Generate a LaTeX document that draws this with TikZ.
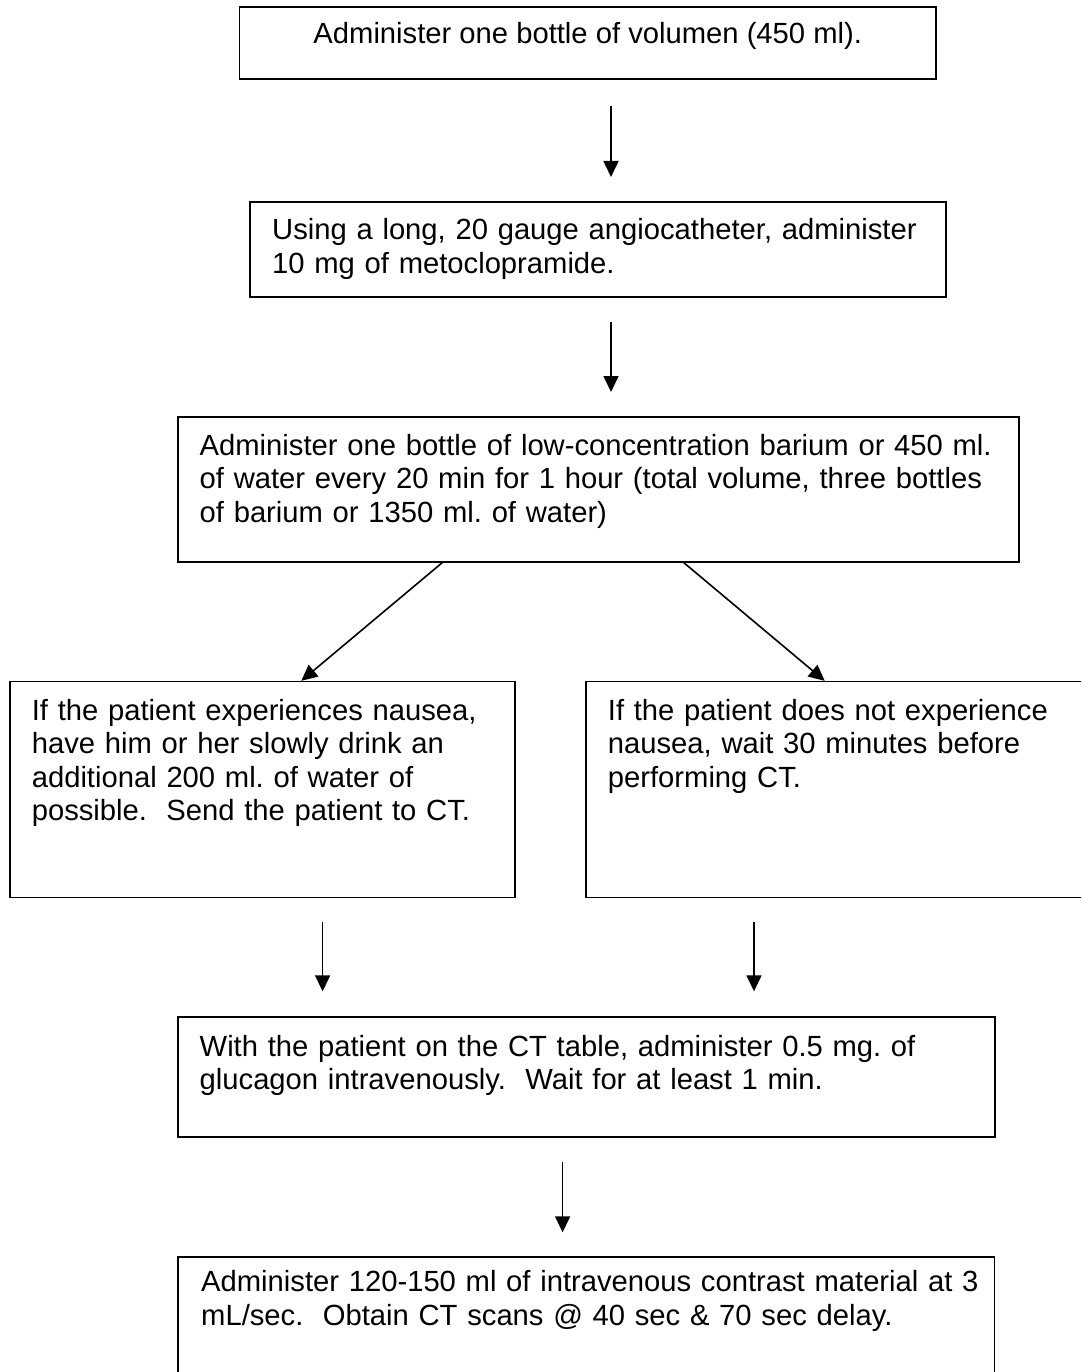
\documentclass[tikz,border=0pt]{standalone}
\usepackage{fontspec}
\setmainfont{Liberation Sans}
\usetikzlibrary{arrows.meta}
\frenchspacing
\begin{document}
\begin{tikzpicture}[x=1pt,y=-1pt,
  box/.style={draw=black, line width=1.8pt, rectangle, inner sep=0pt, outer sep=0pt, anchor=north west},
  txt/.style={inner sep=0pt, anchor=base west, align=left, text width=1000pt, font=\frenchspacing\fontsize{29.2}{33.6}\selectfont},
  ctxt/.style={inner sep=0pt, anchor=base, font=\frenchspacing\fontsize{29.2}{33.6}\selectfont},
  arr/.style={line width=1.6pt, -{Triangle[length=16pt,width=15pt]}}]
\useasboundingbox (0,0) rectangle (1081,1372);
\clip (0,0) rectangle (1081,1372);

% boxes
\node[box, minimum width=696.5pt, minimum height=72.3pt] (b1) at (239.5,6.7) {};
\node[box, minimum width=696pt, minimum height=95.3pt] (b2) at (250,201.7) {};
\node[box, minimum width=841pt, minimum height=145pt] (b3) at (178,417) {};
\node[box, minimum width=505.4pt, minimum height=216pt] (b4) at (9.6,681.5) {};
\node[box, minimum width=520pt, minimum height=216pt] (b5) at (586,681.5) {};
\node[box, minimum width=817pt, minimum height=120pt] (b6) at (178,1017.3) {};
\node[box, minimum width=816.5pt, minimum height=140pt] (b7) at (178,1256.7) {};

% texts
\node[ctxt] (t1) at (587.75,44) {Administer one bottle of volumen (450 ml).};
\node[txt] (t2) at (272,239.7) {Using a long, 20 gauge angiocatheter, administer\\10 mg of metoclopramide.};
\node[txt] (t3) at (199.5,455) {Administer one bottle of low-concentration barium or 450 ml.\\of water every 20 min for 1 hour (total volume, three bottles\\of barium or 1350 ml. of water)};
\node[txt] (t4) at (31.6,720) {If the patient experiences nausea,\\have him or her slowly drink an\\additional 200 ml. of water of\\possible.~~Send the patient to CT.};
\node[txt] (t5) at (607.7,720) {If the patient does not experience\\nausea, wait 30 minutes before\\performing CT.};
\node[txt] (t6) at (199.5,1056) {With the patient on the CT table, administer 0.5 mg. of\\glucagon intravenously.~~Wait for at least 1 min.};
\node[txt] (t7) at (201,1291.5) {Administer 120-150 ml of intravenous contrast material at 3\\mL/sec.~~Obtain CT scans @ 40 sec \& 70 sec delay.};

% connector x positions
\coordinate (xa1) at (611,0);
\coordinate (xa2) at (611,0);
\coordinate (xl1) at (443,0);
\coordinate (xl2) at (300.5,0);
\coordinate (xr1) at (683,0);
\coordinate (xr2) at (825.5,0);
\coordinate (xa4) at (322.6,0);
\coordinate (xa5) at (754,0);
\coordinate (xa6) at (562.6,0);

% connectors
\draw[arr, shorten <=27pt, shorten >=24.7pt] (b1.south -| xa1) -- (b2.north -| xa1);
\draw[arr, shorten <=25pt, shorten >=25pt] (b2.south -| xa2) -- (b3.north -| xa2);
\draw[arr, shorten >=1pt] (b3.south -| xl1) -- (b4.north -| xl2);
\draw[arr, shorten >=1pt] (b3.south -| xr1) -- (b5.north -| xr2);
\draw[arr, shorten <=24pt, shorten >=26pt] (b4.south -| xa4) -- (b6.north -| xa4);
\draw[arr, shorten <=24pt, shorten >=26pt] (b5.south -| xa5) -- (b6.north -| xa5);
\draw[arr, shorten <=24.4pt, shorten >=24.4pt] (b6.south -| xa6) -- (b7.north -| xa6);
\end{tikzpicture}
\end{document}
